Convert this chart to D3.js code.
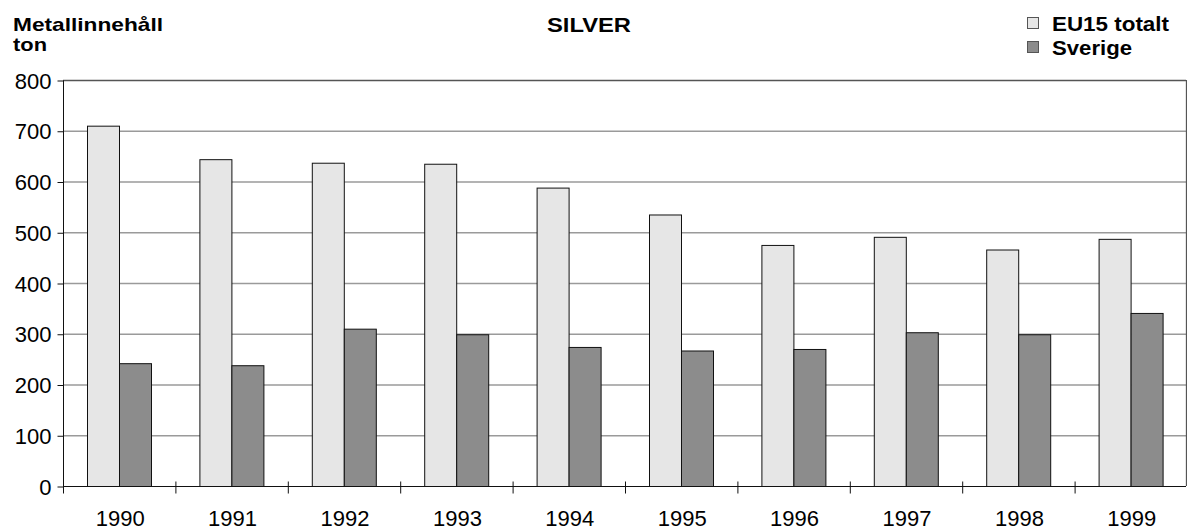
<!DOCTYPE html>
<html>
<head>
<meta charset="utf-8">
<script src="https://cdn.jsdelivr.net/npm/d3@7"></script>
<style>
  body { margin: 0; background: #fff; }
  svg { display: block; font-family: "Liberation Sans", Arial, sans-serif; }
</style>
</head>
<body>
<script>
// 数据
var years = ["1990", "1991", "1992", "1993", "1994", "1995", "1996", "1997", "1998", "1999"];
var series = ["EU15 totalt", "Sverige"];
var eu15 = [710, 644, 637, 635, 588, 535, 475, 491, 466, 487];
var sverige = [242, 238, 310, 299, 274, 267, 270, 303, 299, 341];
var yTicks = [0, 100, 200, 300, 400, 500, 600, 700, 800];

var w = 1187;
var h = 529;
// 注意：不能用 top 作变量名（window.top）
var plotLeft = 63, plotRight = 1186, plotTop = 80, plotBottom = 486;

var colors = { "EU15 totalt": "#e6e6e6", "Sverige": "#8c8c8c" };

var svg = d3.select("body").append("svg")
    .attr("width", w)
    .attr("height", h);

// 比例尺
var x0 = d3.scaleBand().domain(years).range([plotLeft, plotLeft + 1124]);
var x1 = d3.scaleBand().domain(series).range([24, 88]);
var y = d3.scaleLinear().domain([0, 800]).range([plotBottom, plotTop]);

// 网格线
svg.selectAll(".grid")
    .data(yTicks.filter(function (d) { return d > 0 && d < 800; }))
    .enter()
    .append("line")
    .attr("x1", plotLeft).attr("x2", plotRight)
    .attr("y1", function (d) { return y(d) + 0.5; })
    .attr("y2", function (d) { return y(d) + 0.5; })
    .style("stroke", "#9a9a9a")
    .style("stroke-width", 1.3);

// 外框
svg.append("line")
    .attr("x1", plotLeft).attr("x2", plotRight)
    .attr("y1", y(800) + 0.5).attr("y2", y(800) + 0.5)
    .style("stroke", "#555").style("stroke-width", 1.3);
svg.append("line")
    .attr("x1", plotRight + 0.5).attr("x2", plotRight + 0.5)
    .attr("y1", y(800)).attr("y2", plotBottom)
    .style("stroke", "#555").style("stroke-width", 1.3);

// 柱子
var rows = years.map(function (yr, i) {
    return { year: yr, values: [
        { key: "EU15 totalt", value: eu15[i] },
        { key: "Sverige", value: sverige[i] }
    ] };
});

var groups = svg.selectAll(".year")
    .data(rows)
    .enter()
    .append("g")
    .attr("transform", function (d) { return "translate(" + x0(d.year) + ",0)"; });

groups.selectAll("rect")
    .data(function (d) { return d.values; })
    .enter()
    .append("rect")
    .attr("x", function (d) { return x1(d.key) + 0.5; })
    .attr("y", function (d) { return y(d.value) + 0.5; })
    .attr("width", x1.bandwidth())
    .attr("height", function (d) { return plotBottom - y(d.value); })
    .style("fill", function (d) { return colors[d.key]; })
    .style("stroke", "#111")
    .style("stroke-width", 1);

// Y轴
var yAxis = svg.append("g")
    .attr("transform", "translate(" + (plotLeft + 0.5) + ",0.5)")
    .call(d3.axisLeft(y).tickValues(yTicks).tickSize(6).tickPadding(6));
yAxis.select(".domain").attr("d", "M0," + plotTop + "V" + plotBottom).style("stroke", "#111");
yAxis.selectAll(".tick line").style("stroke", "#111");
yAxis.selectAll("text")
    .style("font-size", "22px")
    .style("fill", "#000")
    .attr("dy", "0.35em");

// X轴
var xAxis = svg.append("g")
    .attr("transform", "translate(0," + (plotBottom + 0.5) + ")");
xAxis.append("line")
    .attr("x1", plotLeft).attr("x2", plotRight)
    .style("stroke", "#111");
xAxis.selectAll(".tk")
    .data(years.concat(["end"]))
    .enter()
    .append("line")
    .attr("x1", function (d, i) { return plotLeft + i * x0.bandwidth() + 0.5; })
    .attr("x2", function (d, i) { return plotLeft + i * x0.bandwidth() + 0.5; })
    .attr("y1", -5).attr("y2", 7)
    .style("stroke", "#111");
xAxis.selectAll(".lbl")
    .data(years)
    .enter()
    .append("text")
    .attr("x", function (d) { return x0(d) + x0.bandwidth() / 2 + 1; })
    .attr("y", 39)
    .attr("text-anchor", "middle")
    .style("font-size", "22px")
    .text(function (d) { return d; });

// 标题
svg.append("text")
    .attr("x", 13).attr("y", 31)
    .attr("textLength", 150).attr("lengthAdjust", "spacingAndGlyphs")
    .style("font-size", "19px").style("font-weight", "bold")
    .text("Metallinnehåll");
svg.append("text")
    .attr("x", 13).attr("y", 51)
    .attr("textLength", 34).attr("lengthAdjust", "spacingAndGlyphs")
    .style("font-size", "19px").style("font-weight", "bold")
    .text("ton");
svg.append("text")
    .attr("x", 547).attr("y", 32)
    .attr("textLength", 84).attr("lengthAdjust", "spacingAndGlyphs")
    .style("font-size", "20px").style("font-weight", "bold")
    .text("SILVER");

// 图例
var legendLen = [117, 80];
var legend = svg.selectAll(".legend")
    .data(series)
    .enter()
    .append("g")
    .attr("transform", function (d, i) { return "translate(1027," + (17 + i * 24) + ")"; });
legend.append("rect")
    .attr("x", 0.5).attr("y", 0.5)
    .attr("width", 11).attr("height", 11)
    .style("fill", function (d) { return colors[d]; })
    .style("stroke", "#555");
legend.append("text")
    .attr("x", 25).attr("y", 13.5)
    .attr("textLength", function (d, i) { return legendLen[i]; })
    .attr("lengthAdjust", "spacingAndGlyphs")
    .style("font-size", "20px").style("font-weight", "bold")
    .text(function (d) { return d; });
</script>
</body>
</html>
